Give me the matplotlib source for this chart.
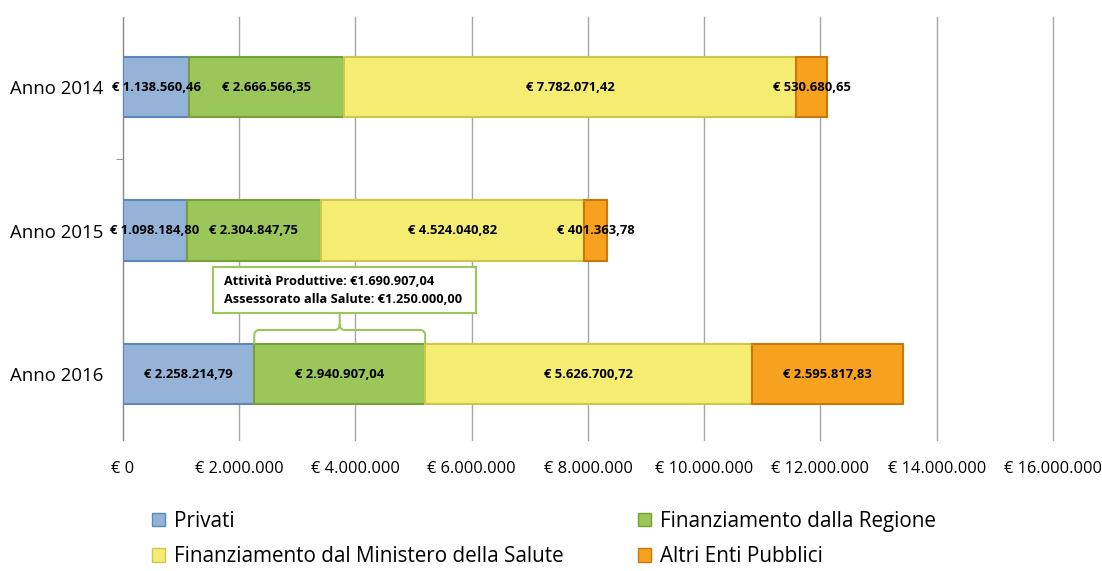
import numpy as np
import matplotlib
matplotlib.use('Agg')
import matplotlib.pyplot as plt
from matplotlib.patches import Rectangle, Patch, PathPatch
from matplotlib.path import Path
from matplotlib.ticker import FuncFormatter

plt.rcParams['font.family'] = ['Open Sans', 'DejaVu Sans']

# data
anni = ['Anno 2014', 'Anno 2015', 'Anno 2016']
privati = [1138560.46, 1098184.80, 2258214.79]
regione = [2666566.35, 2304847.75, 2940907.04]
ministero = [7782071.42, 4524040.82, 5626700.72]
altri = [530680.65, 401363.78, 2595817.83]

serie = ['Privati', 'Finanziamento dalla Regione',
         'Finanziamento dal Ministero della Salute', 'Altri Enti Pubblici']
colori = ['#95b3d7', '#9bc65a', '#f5ec72', '#f7a21f']
bordi = ['#5f86b8', '#76a03a', '#cfc650', '#c9780e']

callout = ['Attività Produttive: €1.690.907,04',
           'Assessorato alla Salute: €1.250.000,00']


def euro(v, dec=2):
    s = f"{v:,.{dec}f}"
    s = s.replace(',', 'X').replace('.', ',').replace('X', '.')
    return '€ ' + s


fig = plt.figure(figsize=(11.02, 5.71), dpi=100)
ax = fig.add_axes([0.1116, 0.2294, 0.8439, 0.7406])

ypos = [2, 1, 0]
h = 0.42
valori = [privati, regione, ministero, altri]
left = np.zeros(3)
for vals, c, e in zip(valori, colori, bordi):
    vals = np.array(vals)
    ax.barh(ypos, vals, left=left, height=h, color=c, edgecolor=e, linewidth=1.5, zorder=3)
    for y, l, v in zip(ypos, left, vals):
        ax.text(l + v / 2, y, euro(v), ha='center', va='center', fontsize=9.4,
                fontweight='bold', color='black', zorder=5)
    left = left + vals

ax.set_xlim(0, 16000000)
ax.set_ylim(-0.46, 2.488)
ax.set_xticks(np.arange(0, 16000001, 2000000))
ax.xaxis.set_major_formatter(FuncFormatter(lambda v, p: euro(v, 0)))
ax.grid(axis='x', color='#a6a6a6', linewidth=1, zorder=0)
for gl in ax.get_xgridlines():
    gl.set_clip_on(False)
ax.tick_params(axis='x', length=0, labelsize=11.8, pad=15)
ax.set_yticks(ypos)
ax.set_yticklabels(anni, fontsize=13.4)
ax.tick_params(axis='y', length=0, pad=14)
ax.set_yticks([1.5], minor=True)
ax.tick_params(axis='y', which='minor', length=5, color='#888888')
for s in ['top', 'right', 'bottom']:
    ax.spines[s].set_visible(False)
ax.spines['left'].set_color('#888888')

# callout with bracket over green segment of 2016
x0 = privati[2]
x1 = privati[2] + regione[2]
xm = (x0 + x1) / 2
yb = h / 2
yh = 0.307
ybox = 0.425
rx, ry = 90000, 0.04
verts = [(x0, yb), (x0, yh - ry), (x0, yh), (x0 + rx, yh),
         (xm - rx, yh), (xm, yh), (xm, yh + ry), (xm, ybox),
         (xm, yh + ry), (xm, yh), (xm + rx, yh),
         (x1 - rx, yh), (x1, yh), (x1, yh - ry), (x1, yb)]
codes = [Path.MOVETO, Path.LINETO, Path.CURVE3, Path.CURVE3,
         Path.LINETO, Path.CURVE3, Path.CURVE3, Path.LINETO,
         Path.MOVETO, Path.CURVE3, Path.CURVE3,
         Path.LINETO, Path.CURVE3, Path.CURVE3, Path.LINETO]
ax.add_patch(PathPatch(Path(verts, codes), fill=False, edgecolor='#9bc65a',
                       linewidth=1.5, zorder=4))
ax.add_patch(Rectangle((1548000, ybox), 4522000, 0.32, facecolor='white',
                       edgecolor='#9bc65a', linewidth=1.5, zorder=4))
ax.text(1740000, 0.648, callout[0], fontsize=9.2, fontweight='bold', va='center', zorder=5)
ax.text(1740000, 0.523, callout[1], fontsize=9.2, fontweight='bold', va='center', zorder=5)

handles = [Patch(facecolor=colori[i], edgecolor=bordi[i]) for i in [0, 2, 1, 3]]
labels = [serie[i] for i in [0, 2, 1, 3]]
fig.legend(handles, labels, ncol=2, loc='center left', bbox_to_anchor=(0.138, 0.056),
           frameon=False, fontsize=14.9, handlelength=0.62, handleheight=0.62,
           handletextpad=0.45, columnspacing=3.6, labelspacing=0.72,
           borderpad=0, borderaxespad=0)

fig.savefig('out.png', dpi=100)
